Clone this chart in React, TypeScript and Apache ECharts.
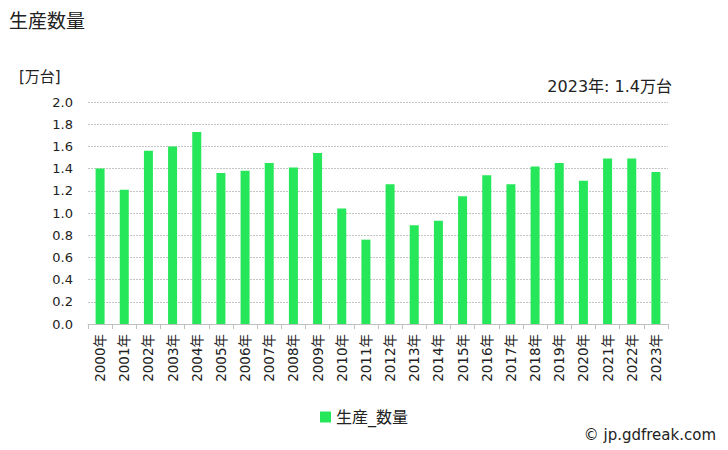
import React, { useEffect, useRef } from "react";
import * as echarts from "echarts";

const categories = ["2000年","2001年","2002年","2003年","2004年","2005年","2006年","2007年","2008年","2009年","2010年","2011年","2012年","2013年","2014年","2015年","2016年","2017年","2018年","2019年","2020年","2021年","2022年","2023年"];
const values = [1.40,1.21,1.56,1.60,1.73,1.36,1.38,1.45,1.41,1.54,1.04,0.76,1.26,0.89,0.93,1.15,1.34,1.26,1.42,1.45,1.29,1.49,1.49,1.37];
const seriesName = "生産_数量";
const titleText = "生産数量";
const unitText = "[万台]";
const noteText = "2023年: 1.4万台";
const credit = "© jp.gdfreak.com";

const FONT = "'DejaVu Sans', 'Noto Sans CJK JP', sans-serif";

export default function App() {
  const ref = useRef<HTMLDivElement>(null);
  useEffect(() => {
    const chart = echarts.init(ref.current!, null, { renderer: "svg" });
    chart.setOption({
      animation: false,
      textStyle: { fontFamily: FONT },
      graphic: [
        { type: "text", left: 9, top: 11, style: { text: titleText, fontSize: 19, fill: "#222", fontFamily: FONT } },
        { type: "text", left: 19, top: 69, style: { text: unitText, fontSize: 15, fill: "#222", fontFamily: FONT } },
        { type: "text", right: 56, top: 78, style: { text: noteText, fontSize: 16, fill: "#222", fontFamily: FONT } },
        { type: "text", right: 12, top: 427, style: { text: credit, fontSize: 15, fill: "#222", fontFamily: FONT } },
      ],
      legend: {
        data: [seriesName],
        top: 404,
        left: "center",
        itemWidth: 11,
        itemHeight: 11,
        itemGap: 6,
        icon: "rect",
        textStyle: { fontSize: 16, color: "#222", fontFamily: FONT },
      },
      grid: { left: 88, right: 60, top: 102, bottom: 126 },
      xAxis: {
        type: "category",
        data: categories,
        axisLine: { lineStyle: { color: "#c0c0c0" } },
        axisTick: { show: true, alignWithLabel: false, lineStyle: { color: "#c0c0c0" }, length: 5 },
        axisLabel: { rotate: 90, fontSize: 13.5, color: "#222", interval: 0, margin: 10 },
      },
      yAxis: {
        type: "value",
        min: 0,
        max: 2.0,
        interval: 0.2,
        axisLine: { show: false },
        axisTick: { show: false },
        axisLabel: { fontSize: 13, color: "#222", formatter: (v: number) => v.toFixed(1), margin: 15 },
        splitLine: { lineStyle: { color: "#c4c4c4", type: [2, 1], width: 1 } },
      },
      series: [
        {
          name: seriesName,
          type: "bar",
          data: values,
          barWidth: 9,
          itemStyle: { color: "#26e65a" },
        },
      ],
    });
    return () => chart.dispose();
  }, []);
  return <div ref={ref} style={{ width: 728, height: 450, position: "absolute", left: 0, top: 0 }} />;
}
